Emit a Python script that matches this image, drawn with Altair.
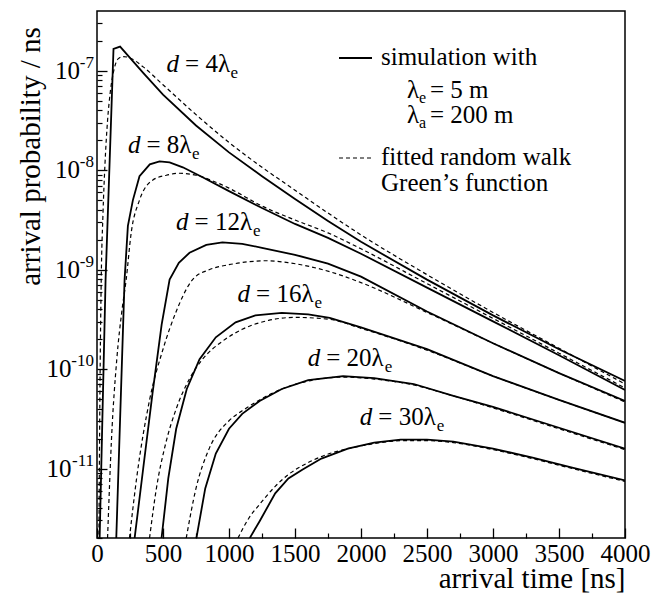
import altair as alt
import pandas as pd

FONT = "Liberation Serif, Times New Roman, Times, DejaVu Serif, serif"

# ---------------------------------------------------------------------------
# Curves: time t [ns] and log10(arrival probability / ns)
# Solid = simulation, dashed = fitted random-walk Green's function
# ---------------------------------------------------------------------------
T_SIM_4 = [20, 65, 125, 175, 250, 350, 500, 750, 1000, 1250, 1500, 1750, 2000, 2500, 3000, 3500, 4000]
LOG_SIM_4 = [-11.70, -9.10, -6.78, -6.756, -6.87, -7.02, -7.24, -7.55, -7.82, -8.06, -8.29, -8.51, -8.72, -9.10, -9.46, -9.80, -10.12]
T_FIT_4 = [12, 20, 32, 45, 60, 80, 100, 130, 160, 200, 250, 350, 500, 750, 1000, 1250, 1500, 1750, 2000, 2500, 3000, 3500, 4000]
LOG_FIT_4 = [-12.3, -10.6, -9.1, -8.45, -7.95, -7.5, -7.22, -6.98, -6.88, -6.856, -6.87, -6.96, -7.14, -7.44, -7.72, -7.97, -8.20, -8.43, -8.65, -9.05, -9.43, -9.79, -10.15]

T_SIM_8 = [146, 209, 234, 272, 322, 400, 474, 550, 650, 800, 1000, 1250, 1500, 1750, 2000, 2500, 3000, 3500, 4000]
LOG_SIM_8 = [-11.7, -9.1, -8.56, -8.30, -8.06, -7.94, -7.91, -7.92, -7.97, -8.07, -8.21, -8.38, -8.54, -8.68, -8.84, -9.18, -9.52, -9.86, -10.21]
T_FIT_8 = [80, 110, 150, 190, 221, 259, 322, 421, 525, 625, 750, 900, 1000, 1250, 1500, 1750, 2000, 2500, 3000, 3500, 4000]
LOG_FIT_8 = [-11.7, -10.7, -9.9, -9.4, -9.1, -8.63, -8.30, -8.10, -8.05, -8.03, -8.05, -8.12, -8.18, -8.36, -8.50, -8.63, -8.79, -9.14, -9.49, -9.84, -10.19]

T_SIM_12 = [285, 350, 420, 490, 550, 620, 701, 828, 950, 1100, 1250, 1500, 1750, 2000, 2500, 3000, 3500, 4000]
LOG_SIM_12 = [-11.7, -11.0, -10.25, -9.55, -9.1, -8.93, -8.83, -8.75, -8.725, -8.74, -8.78, -8.85, -8.94, -9.07, -9.42, -9.74, -10.04, -10.32]
T_FIT_12 = [246, 300, 400, 500, 600, 724, 850, 1000, 1150, 1283, 1450, 1763, 2000, 2500, 3000, 3500, 4000]
LOG_FIT_12 = [-11.7, -11.1, -10.3, -9.8, -9.42, -9.1, -9.0, -8.95, -8.92, -8.91, -8.93, -9.02, -9.13, -9.43, -9.74, -10.04, -10.33]

T_SIM_16 = [489, 540, 600, 680, 777, 900, 1050, 1200, 1400, 1600, 1763, 2000, 2500, 3000, 3500, 4000]
LOG_SIM_16 = [-11.7, -11.1, -10.6, -10.2, -9.90, -9.68, -9.53, -9.46, -9.435, -9.45, -9.485, -9.58, -9.80, -10.07, -10.31, -10.54]
T_FIT_16 = [398, 450, 520, 600, 700, 800, 950, 1100, 1300, 1500, 1763, 2000, 2500, 3000, 3500, 4000]
LOG_FIT_16 = [-11.7, -11.2, -10.75, -10.4, -10.1, -9.9, -9.72, -9.6, -9.51, -9.48, -9.50, -9.59, -9.81, -10.07, -10.31, -10.54]

T_SIM_20 = [753, 820, 900, 1000, 1100, 1232, 1400, 1600, 1864, 2100, 2400, 2700, 3000, 3500, 4000]
LOG_SIM_20 = [-11.7, -11.2, -10.85, -10.6, -10.45, -10.32, -10.2, -10.11, -10.07, -10.09, -10.15, -10.27, -10.38, -10.59, -10.80]
T_FIT_20 = [676, 750, 850, 1000, 1100, 1232, 1400, 1600, 1864, 2100, 2400, 2700, 3000, 3500, 4000]
LOG_FIT_20 = [-11.7, -11.2, -10.8, -10.52, -10.42, -10.31, -10.2, -10.12, -10.08, -10.10, -10.16, -10.27, -10.39, -10.60, -10.81]

T_SIM_30 = [1157, 1232, 1350, 1450, 1558, 1700, 1900, 2100, 2300, 2500, 2700, 3000, 3300, 3600, 4000]
LOG_SIM_30 = [-11.7, -11.53, -11.25, -11.1, -11.01, -10.9, -10.8, -10.74, -10.71, -10.71, -10.73, -10.80, -10.89, -10.99, -11.12]
T_FIT_30 = [1068, 1150, 1232, 1350, 1450, 1558, 1700, 1900, 2100, 2300, 2500, 2700, 3000, 3300, 3600, 4000]
LOG_FIT_30 = [-11.7, -11.5, -11.36, -11.18, -11.06, -10.97, -10.88, -10.80, -10.75, -10.72, -10.72, -10.74, -10.81, -10.90, -11.00, -11.13]

DISTANCES = ["4", "8", "12", "16", "20", "30"]

# curve labels "d = Nλe": anchor (time, log10 p) of the italic d
LABEL_T = [527, 235, 599, 1065, 1596, 1991]
LABEL_LOG = [-7.01, -7.824, -8.598, -9.322, -9.965, -10.558]

X_MAJOR = [0, 500, 1000, 1500, 2000, 2500, 3000, 3500, 4000]
X_MINOR = [250, 750, 1250, 1750, 2250, 2750, 3250, 3750]
Y_MAJOR = [1e-11, 1e-10, 1e-9, 1e-8, 1e-7]
Y_EXP = ["-11", "-10", "-9", "-8", "-7"]
Y_MINOR = [k * 10.0 ** e for e in range(-12, -6) for k in range(2, 10) if 2e-12 <= k * 10.0 ** e <= 3.5e-7]

# ---------------------------------------------------------------------------
SIM_T = [T_SIM_4, T_SIM_8, T_SIM_12, T_SIM_16, T_SIM_20, T_SIM_30]
SIM_L = [LOG_SIM_4, LOG_SIM_8, LOG_SIM_12, LOG_SIM_16, LOG_SIM_20, LOG_SIM_30]
FIT_T = [T_FIT_4, T_FIT_8, T_FIT_12, T_FIT_16, T_FIT_20, T_FIT_30]
FIT_L = [LOG_FIT_4, LOG_FIT_8, LOG_FIT_12, LOG_FIT_16, LOG_FIT_20, LOG_FIT_30]


def build(ts_list, ls_list):
    rows = []
    for d, ts, ls in zip(DISTANCES, ts_list, ls_list):
        for t, l in zip(ts, ls):
            rows.append({"d": d, "t": t, "p": 10.0 ** l})
    return pd.DataFrame(rows)


sim_df = build(SIM_T, SIM_L)
fit_df = build(FIT_T, FIT_L)
lab_df = pd.DataFrame({
    "d": DISTANCES,
    "t": LABEL_T,
    "p": [10.0 ** l for l in LABEL_LOG],
    "rest": ["= " + d + "λ" for d in DISTANCES],
    "nd": [len(d) for d in DISTANCES],
})
ylab_df = pd.DataFrame({"p": Y_MAJOR, "exp": Y_EXP, "ne": [len(e) for e in Y_EXP]})

W, H = 528, 527
xscale = alt.Scale(domain=[0, 4000], nice=False, zero=False)
yscale = alt.Scale(type="log", domain=[2e-12, 4e-7], nice=False)

x_major = alt.Axis(values=X_MAJOR, orient="bottom", offset=-10, tickSize=10, tickWidth=1.3,
                   tickColor="black", domain=False, grid=False, format="d",
                   labelFont=FONT, labelFontSize=25, labelColor="black", labelPadding=3,
                   labelFlush=False, labelOverlap=False,
                   title="arrival time [ns]", titleFont=FONT, titleFontSize=29,
                   titleFontWeight="normal", titleColor="black", titleAlign="right",
                   titleBaseline="alphabetic", titleX=W, titleY=59)
y_major = alt.Axis(values=Y_MAJOR, orient="left", offset=-10, tickSize=10, tickWidth=1.3,
                   tickColor="black", domain=False, grid=False, labels=False,
                   title="arrival probability / ns", titleFont=FONT, titleFontSize=29,
                   titleFontWeight="normal", titleColor="black", titleAngle=270,
                   titleAlign="center", titleBaseline="alphabetic", titleX=-67.5, titleY=145)
x_minor = alt.Axis(values=X_MINOR, orient="bottom", offset=-5, tickSize=5, tickWidth=1.2,
                   tickColor="black", domain=False, grid=False, labels=False, title=None)
y_minor = alt.Axis(values=Y_MINOR, orient="left", offset=-5, tickSize=5, tickWidth=1.2,
                   tickColor="black", domain=False, grid=False, labels=False, title=None)

sim = alt.Chart(sim_df).mark_line(color="black", strokeWidth=1.8, clip=True).encode(
    x=alt.X("t:Q", scale=xscale, axis=x_major),
    y=alt.Y("p:Q", scale=yscale, axis=y_major),
    detail="d:N",
)
fit = alt.Chart(fit_df).mark_line(color="black", strokeWidth=1.2, strokeDash=[4, 3],
                                  interpolate="monotone", clip=True).encode(
    x=alt.X("t:Q", scale=xscale, axis=None),
    y=alt.Y("p:Q", scale=yscale, axis=None),
    detail="d:N",
)
minor = alt.Chart(sim_df).mark_line(strokeOpacity=0, clip=True).encode(
    x=alt.X("t:Q", scale=xscale, axis=x_minor),
    y=alt.Y("p:Q", scale=yscale, axis=y_minor),
    detail="d:N",
)

# y tick labels: "10" with a raised exponent
ylab_base = alt.Chart(ylab_df).encode(y=alt.Y("p:Q", scale=yscale, axis=None))
ylab_exp = ylab_base.mark_text(font=FONT, fontSize=17, align="right", baseline="alphabetic",
                               dy=-3, color="black").encode(x=alt.value(-3), text="exp:N")
ylab_ten1 = ylab_base.transform_filter("datum.ne == 2").mark_text(
    text="10", font=FONT, fontSize=25, align="right", baseline="alphabetic", dy=8,
    color="black").encode(x=alt.value(-17))
ylab_ten2 = ylab_base.transform_filter("datum.ne == 3").mark_text(
    text="10", font=FONT, fontSize=25, align="right", baseline="alphabetic", dy=8,
    color="black").encode(x=alt.value(-25.5))

lab_base = alt.Chart(lab_df).encode(
    x=alt.X("t:Q", scale=xscale, axis=None),
    y=alt.Y("p:Q", scale=yscale, axis=None),
)
lab_d = lab_base.mark_text(text="d", font=FONT, fontSize=25, fontStyle="italic",
                           align="left", baseline="alphabetic", color="black")
lab_rest = lab_base.mark_text(font=FONT, fontSize=25, align="left", baseline="alphabetic",
                              dx=18.5, color="black").encode(text="rest:N")
lab_sub1 = lab_base.transform_filter("datum.nd == 1").mark_text(
    text="e", font=FONT, fontSize=17, align="left", baseline="alphabetic", dx=64, dy=6, color="black")
lab_sub2 = lab_base.transform_filter("datum.nd == 2").mark_text(
    text="e", font=FONT, fontSize=17, align="left", baseline="alphabetic", dx=77, dy=6, color="black")

one = pd.DataFrame({"k": [0]})


def txt(s, x, y, size=25):
    return alt.Chart(one).mark_text(text=s, font=FONT, fontSize=size, align="left",
                                    baseline="alphabetic", color="black").encode(
        x=alt.value(x), y=alt.value(y))


leg_solid = alt.Chart(one).mark_rule(color="black", strokeWidth=1.8).encode(
    x=alt.value(242), x2=alt.value(275), y=alt.value(47))
leg_dash = alt.Chart(one).mark_rule(color="black", strokeWidth=1.2, strokeDash=[4, 3]).encode(
    x=alt.value(242), x2=alt.value(275), y=alt.value(147))

legend = [
    leg_solid, leg_dash,
    txt("simulation with", 284, 54),
    txt("λ", 310, 87), txt("e", 322, 92, 16), txt("= 5 m", 333, 87),
    txt("λ", 310, 112), txt("a", 322, 117, 16), txt("= 200 m", 333, 112),
    txt("fitted random walk", 284, 154),
    txt("Green’s function", 284, 180),
]

chart = alt.layer(sim, fit, minor, ylab_exp, ylab_ten1, ylab_ten2,
                  lab_d, lab_rest, lab_sub1, lab_sub2, *legend).resolve_axis(
    x="independent", y="independent"
).properties(
    width=W, height=H,
    autosize=alt.AutoSizeParams(type="none"),
    padding={"left": 97, "top": 11, "right": 38, "bottom": 61},
    background="white",
).configure_view(stroke="black", strokeWidth=1.5)

chart.save("out.html", embed_options={"renderer": "svg", "actions": False})
